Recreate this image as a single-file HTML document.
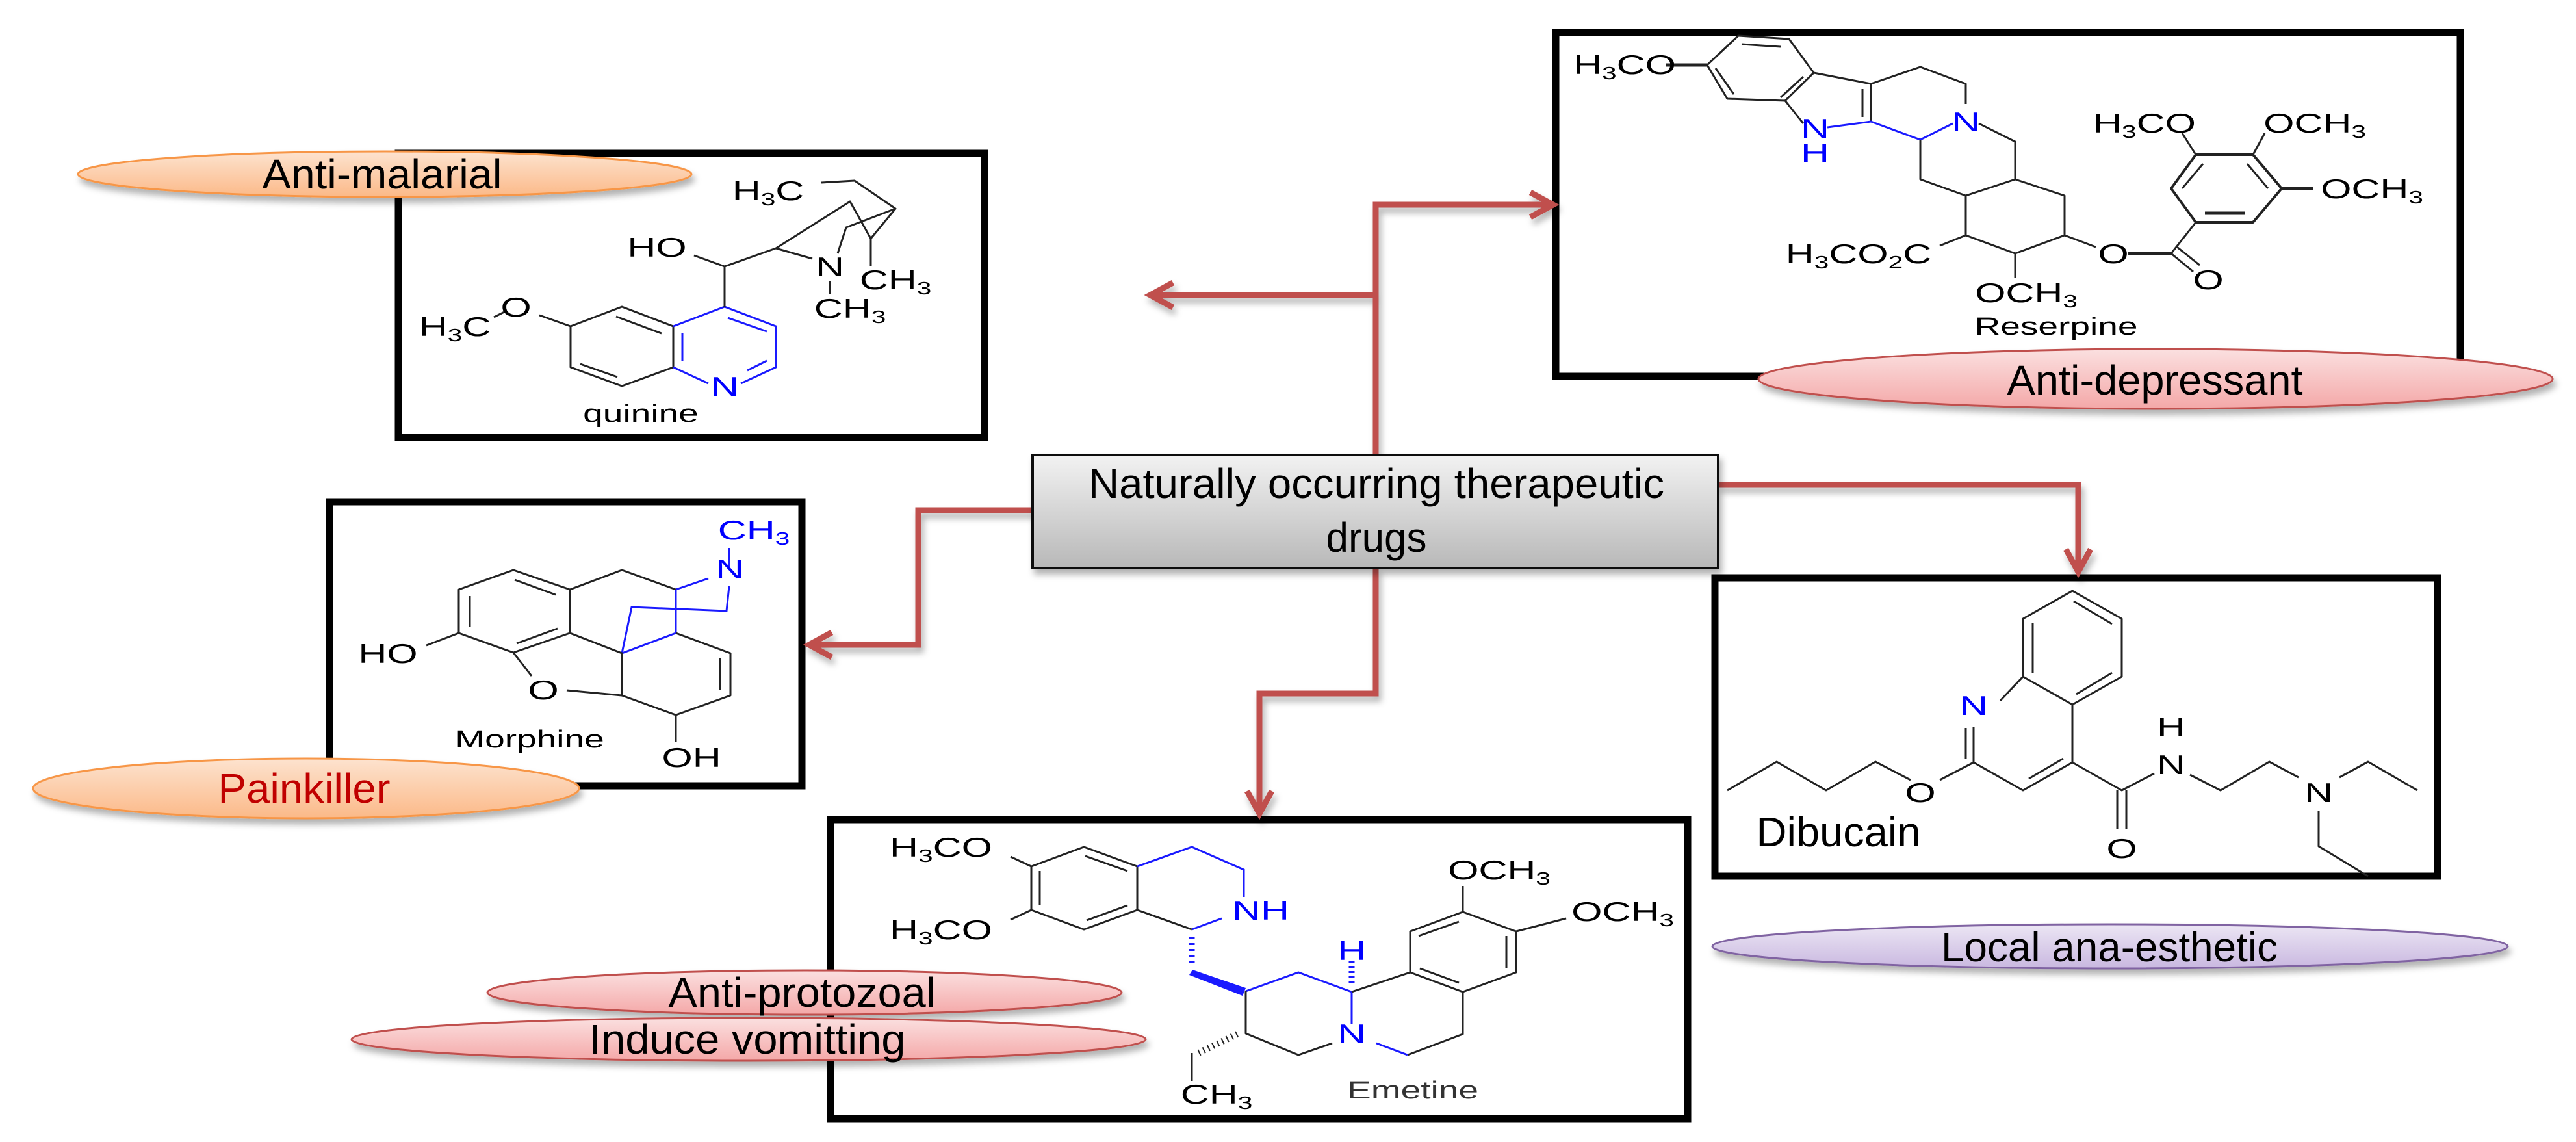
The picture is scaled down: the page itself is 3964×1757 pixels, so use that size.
<!DOCTYPE html>
<html><head><meta charset="utf-8">
<style>
html,body{margin:0;padding:0;background:#fff;}
svg{display:block;}
.c{font-family:"Liberation Sans",Arial,sans-serif;font-size:42px;fill:#000;text-anchor:middle;}
.b{fill:#0000ff;}
.k{font-family:"Liberation Sans",Arial,sans-serif;fill:#000;font-size:64px;text-anchor:middle;}
.m{stroke:#222;stroke-width:3;fill:none;stroke-linejoin:round;}
.mb{stroke:#1a1aff;stroke-width:3;fill:none;}
.box{fill:none;stroke:#000;stroke-width:11;}
.con{stroke:#c0504d;stroke-width:9;fill:none;}
</style></head><body>
<svg width="3964" height="1757" viewBox="0 0 3964 1757" xmlns="http://www.w3.org/2000/svg">
<defs>
<linearGradient id="gOr" x1="0" y1="0" x2="0" y2="1"><stop offset="0" stop-color="#fde3cf"/><stop offset="1" stop-color="#fbb988"/></linearGradient>
<linearGradient id="gPk" x1="0" y1="0" x2="0" y2="1"><stop offset="0" stop-color="#fbe0e0"/><stop offset="1" stop-color="#f4a8a8"/></linearGradient>
<linearGradient id="gPu" x1="0" y1="0" x2="0" y2="1"><stop offset="0" stop-color="#ece6f4"/><stop offset="1" stop-color="#c9b8e0"/></linearGradient>
<linearGradient id="gGr" x1="0" y1="0" x2="0" y2="1"><stop offset="0" stop-color="#f2f2f2"/><stop offset="1" stop-color="#b8b8b8"/></linearGradient>
<filter id="sh" x="-10%" y="-20%" width="120%" height="150%"><feDropShadow dx="4" dy="8" stdDeviation="5" flood-color="#000" flood-opacity="0.3"/></filter>
</defs>

<rect class="box" x="613" y="236" width="902" height="437"/>
<rect class="box" x="2394" y="50" width="1392" height="529"/>
<rect class="box" x="507" y="772" width="727" height="437"/>
<rect class="box" x="2639" y="889" width="1112" height="459"/>
<rect class="box" x="1278" y="1261" width="1319" height="460"/>

<g filter="url(#sh)">
<polyline class="con" points="2117,700 2117,315 2390,315"/>
<polyline class="con" points="2355,296 2390,315 2355,334"/>
<polyline class="con" points="2117,454 1770,454"/>
<polyline class="con" points="1805,435 1770,454 1805,473"/>
<polyline class="con" points="2644,746 3198,746 3198,880"/>
<polyline class="con" points="3179,845 3198,880 3217,845"/>
<polyline class="con" points="1589,785 1413,785 1413,992 1245,992"/>
<polyline class="con" points="1280,973 1245,992 1280,1011"/>
<polyline class="con" points="2117,874 2117,1067 1938,1067 1938,1252"/>
<polyline class="con" points="1919,1217 1938,1252 1957,1217"/>
</g>

<rect x="1589" y="700" width="1055" height="174" fill="url(#gGr)" stroke="#111" stroke-width="4" filter="url(#sh)"/>
<text class="k" x="2118" y="766" textLength="886" lengthAdjust="spacingAndGlyphs">Naturally occurring therapeutic</text>
<text class="k" x="2118" y="849" textLength="155" lengthAdjust="spacingAndGlyphs">drugs</text>

<g filter="url(#sh)">
<ellipse cx="592" cy="268" rx="472" ry="35" fill="url(#gOr)" stroke="#f79646" stroke-width="3"/>
<ellipse cx="3317" cy="583" rx="611" ry="46" fill="url(#gPk)" stroke="#c0504d" stroke-width="3"/>
<ellipse cx="3247" cy="1456" rx="612" ry="34" fill="url(#gPu)" stroke="#8064a2" stroke-width="3"/>
<ellipse cx="471" cy="1213" rx="420" ry="46" fill="url(#gOr)" stroke="#f79646" stroke-width="3"/>
<ellipse cx="1238" cy="1527" rx="488" ry="34" fill="url(#gPk)" stroke="#c0504d" stroke-width="3"/>
<ellipse cx="1152" cy="1599" rx="611" ry="33" fill="url(#gPk)" stroke="#c0504d" stroke-width="3"/>
</g>
<text class="k" x="588" y="290" textLength="369" lengthAdjust="spacingAndGlyphs">Anti-malarial</text>
<text class="k" x="3316" y="607" textLength="455" lengthAdjust="spacingAndGlyphs">Anti-depressant</text>
<text class="k" x="3246" y="1479" textLength="518" lengthAdjust="spacingAndGlyphs">Local ana-esthetic</text>
<text class="k" x="468" y="1235" textLength="265" lengthAdjust="spacingAndGlyphs" style="fill:#c00000">Painkiller</text>
<text class="k" x="1234" y="1549" textLength="411" lengthAdjust="spacingAndGlyphs">Anti-protozoal</text>
<text class="k" x="1150" y="1621" textLength="487" lengthAdjust="spacingAndGlyphs">Induce vomitting</text>

<!-- QUININE -->
<polygon class="m" points="957,472 1036,502 1036,565 957,594 878,565 878,502"/>
<line class="m" x1="948" y1="487" x2="1018" y2="513"/><line class="m" x1="893" y1="560" x2="950" y2="580"/>
<polyline class="mb" points="1036,502 1115,472 1194,502 1194,565 1140,590"/>
<polyline class="mb" points="1090,590 1036,565"/>
<line class="mb" x1="1050" y1="512" x2="1050" y2="555"/><line class="mb" x1="1120" y1="489" x2="1180" y2="510"/><line class="mb" x1="1150" y1="570" x2="1180" y2="555"/>
<polyline class="m" points="1115,472 1115,410 1194,382 1250,398"/>
<line class="m" x1="1115" y1="410" x2="1068" y2="393"/>
<polyline class="m" points="1194,382 1308,310 1340,367 1378,321 1315,278 1264,281"/>
<polyline class="m" points="1378,321 1302,350 1289,390"/>
<line class="m" x1="1340" y1="367" x2="1340" y2="410"/>
<line class="m" x1="1277" y1="433" x2="1277" y2="452"/>
<line class="m" x1="878" y1="502" x2="830" y2="485"/>
<line class="m" x1="760" y1="488" x2="780" y2="478"/>
<text class="c" transform="matrix(1.45,0,0,1,1182,308)">H<tspan font-size="28" dy="8">3</tspan><tspan dy="-8">C</tspan></text>
<text class="c" transform="matrix(1.45,0,0,1,1011,395)">HO</text>
<text class="c" transform="matrix(1.45,0,0,1,1277,425)">N</text>
<text class="c" transform="matrix(1.45,0,0,1,1378,445)">CH<tspan font-size="28" dy="8">3</tspan></text>
<text class="c" transform="matrix(1.45,0,0,1,1308,489)">CH<tspan font-size="28" dy="8">3</tspan></text>
<text class="c" transform="matrix(1.45,0,0,1,794,487)">O</text>
<text class="c" transform="matrix(1.45,0,0,1,700,517)">H<tspan font-size="28" dy="8">3</tspan><tspan dy="-8">C</tspan></text>
<text class="c b" transform="matrix(1.45,0,0,1,1115,609)">N</text>
<text class="c" transform="matrix(1.45,0,0,1,986,649)" style="font-size:38px">quinine</text>

<!-- RESERPINE -->
<polygon class="m" points="2675,55 2753,60 2791,112 2747,155 2658,152 2627,100"/>
<line class="m" x1="2680" y1="68" x2="2740" y2="72"/><line class="m" x1="2640" y1="105" x2="2668" y2="145"/><line class="m" x1="2775" y1="118" x2="2740" y2="150"/>
<line class="m" x1="2563" y1="100" x2="2627" y2="100" style="stroke-width:5"/>
<polyline class="m" points="2791,112 2879,129 2879,187"/>
<line class="m" x1="2866" y1="137" x2="2866" y2="180"/>
<line class="m" x1="2747" y1="155" x2="2775" y2="190"/>
<polyline class="mb" points="2812,196 2879,187 2955,215 3005,190"/>
<polyline class="m" points="2879,129 2955,103 3025,129 3025,160"/>
<polyline class="m" points="3045,190 3101,218 3101,276 3025,301 2955,276 2955,215"/>
<polyline class="m" points="3101,276 3177,301 3177,362 3101,390 3025,362 3025,301"/>
<line class="m" x1="3025" y1="362" x2="2985" y2="378"/>
<line class="m" x1="3101" y1="390" x2="3101" y2="428"/>
<line class="m" x1="3177" y1="362" x2="3225" y2="380"/>
<line class="m" x1="3275" y1="390" x2="3341" y2="390" style="stroke-width:5"/>
<line class="m" x1="3341" y1="390" x2="3379" y2="342"/>
<line class="m" x1="3341" y1="390" x2="3375" y2="418"/><line class="m" x1="3350" y1="380" x2="3385" y2="408"/>
<polygon class="m" points="3379,342 3467,342 3511,290 3467,238 3379,238 3341,290" style="stroke-width:4"/>
<line class="m" x1="3393" y1="328" x2="3455" y2="328" style="stroke-width:5"/><line class="m" x1="3390" y1="252" x2="3358" y2="290"/><line class="m" x1="3458" y1="252" x2="3490" y2="290"/>
<line class="m" x1="3511" y1="290" x2="3560" y2="290" style="stroke-width:5"/>
<line class="m" x1="3379" y1="238" x2="3358" y2="205"/>
<line class="m" x1="3467" y1="238" x2="3485" y2="205"/>
<text class="c" transform="matrix(1.45,0,0,1,2500,114)">H<tspan font-size="28" dy="8">3</tspan><tspan dy="-8">CO</tspan></text>
<text class="c b" transform="matrix(1.45,0,0,1,2793,212)">N</text>
<text class="c b" transform="matrix(1.45,0,0,1,2793,250)">H</text>
<text class="c b" transform="matrix(1.45,0,0,1,3025,202)">N</text>
<text class="c" transform="matrix(1.45,0,0,1,3300,204)">H<tspan font-size="28" dy="8">3</tspan><tspan dy="-8">CO</tspan></text>
<text class="c" transform="matrix(1.45,0,0,1,3562,204)">OCH<tspan font-size="28" dy="8">3</tspan></text>
<text class="c" transform="matrix(1.45,0,0,1,3650,305)">OCH<tspan font-size="28" dy="8">3</tspan></text>
<text class="c" transform="matrix(1.45,0,0,1,2860,405)">H<tspan font-size="28" dy="8">3</tspan><tspan dy="-8">CO</tspan><tspan font-size="28" dy="8">2</tspan><tspan dy="-8">C</tspan></text>
<text class="c" transform="matrix(1.45,0,0,1,3118,465)">OCH<tspan font-size="28" dy="8">3</tspan></text>
<text class="c" transform="matrix(1.45,0,0,1,3252,405)">O</text>
<text class="c" transform="matrix(1.45,0,0,1,3398,445)">O</text>
<text class="c" transform="matrix(1.45,0,0,1,3164,515)" style="font-size:38px">Reserpine</text>

<!-- MORPHINE -->
<polygon class="m" points="790,877 877,907 877,974 790,1004 706,974 706,907"/>
<line class="m" x1="792" y1="892" x2="855" y2="915"/><line class="m" x1="723" y1="917" x2="723" y2="965"/><line class="m" x1="795" y1="990" x2="858" y2="967"/>
<line class="m" x1="706" y1="974" x2="656" y2="993"/>
<polyline class="m" points="877,907 957,877 1040,907"/>
<line class="mb" x1="1040" y1="907" x2="1090" y2="890"/>
<line class="mb" x1="1122" y1="877" x2="1122" y2="843"/>
<polyline class="mb" points="1122,902 1118,940 972,934 957,1005 1040,974"/>
<line class="mb" x1="1040" y1="907" x2="1040" y2="974"/>
<polyline class="m" points="877,974 957,1005 957,1070 1040,1100 1124,1070 1124,1005 1040,974"/>
<line class="m" x1="1108" y1="1012" x2="1108" y2="1062"/>
<line class="m" x1="790" y1="1004" x2="818" y2="1040"/>
<line class="m" x1="872" y1="1062" x2="957" y2="1070"/>
<line class="m" x1="1040" y1="1100" x2="1040" y2="1142"/>
<text class="c" transform="matrix(1.45,0,0,1,597,1020)">HO</text>
<text class="c" transform="matrix(1.45,0,0,1,836,1076)">O</text>
<text class="c" transform="matrix(1.45,0,0,1,1064,1180)">OH</text>
<text class="c b" transform="matrix(1.45,0,0,1,1123,890)">N</text>
<text class="c b" transform="matrix(1.45,0,0,1,1160,830)">CH<tspan font-size="28" dy="8">3</tspan></text>
<text class="c" transform="matrix(1.45,0,0,1,815,1150)" style="font-size:38px">Morphine</text>

<!-- EMETINE -->
<polygon class="m" points="1668,1303 1750,1333 1750,1400 1668,1430 1587,1400 1587,1333"/>
<line class="m" x1="1670" y1="1317" x2="1735" y2="1340"/><line class="m" x1="1600" y1="1340" x2="1600" y2="1393"/><line class="m" x1="1672" y1="1416" x2="1735" y2="1393"/>
<line class="m" x1="1587" y1="1333" x2="1555" y2="1318"/><line class="m" x1="1587" y1="1400" x2="1555" y2="1415"/>
<polyline class="mb" points="1750,1333 1834,1303 1914,1338 1914,1380"/>
<polyline class="mb" points="1880,1413 1834,1430"/>
<line class="m" x1="1834" y1="1430" x2="1750" y2="1400"/>
<line class="mb" x1="1834" y1="1442" x2="1834" y2="1483" style="stroke-width:9;stroke-dasharray:3 6"/>
<polygon points="1835,1492 1917,1520 1912,1532 1830,1500" fill="#1a1aff"/>
<polyline class="mb" points="1917,1525 1998,1496 2080,1526"/>
<line class="mb" x1="2080" y1="1526" x2="2080" y2="1575"/>
<line class="mb" x1="2080" y1="1478" x2="2080" y2="1518" style="stroke-width:9;stroke-dasharray:3 5"/>
<polyline class="m" points="2050,1605 1998,1623 1917,1590 1917,1525"/>
<line class="m" x1="1904" y1="1591" x2="1844" y2="1620" style="stroke-width:10;stroke-dasharray:2 6"/>
<line class="m" x1="1834" y1="1620" x2="1834" y2="1663"/>
<polygon class="m" points="2251,1403 2333,1433 2333,1496 2251,1526 2170,1496 2170,1433"/>
<line class="m" x1="2183" y1="1440" x2="2245" y2="1418"/><line class="m" x1="2318" y1="1440" x2="2318" y2="1490"/><line class="m" x1="2185" y1="1490" x2="2245" y2="1512"/>
<line class="m" x1="2080" y1="1526" x2="2170" y2="1496"/>
<polyline class="m" points="2251,1526 2251,1591 2166,1623"/>
<line class="mb" x1="2166" y1="1623" x2="2118" y2="1605"/>
<line class="m" x1="2251" y1="1403" x2="2251" y2="1363"/>
<line class="m" x1="2333" y1="1433" x2="2410" y2="1413"/>
<text class="c" transform="matrix(1.45,0,0,1,1448,1318)">H<tspan font-size="28" dy="8">3</tspan><tspan dy="-8">CO</tspan></text>
<text class="c" transform="matrix(1.45,0,0,1,1448,1445)">H<tspan font-size="28" dy="8">3</tspan><tspan dy="-8">CO</tspan></text>
<text class="c b" transform="matrix(1.45,0,0,1,1940,1415)">NH</text>
<text class="c b" transform="matrix(1.45,0,0,1,2080,1477)">H</text>
<text class="c b" transform="matrix(1.45,0,0,1,2080,1605)">N</text>
<text class="c" transform="matrix(1.45,0,0,1,1872,1698)">CH<tspan font-size="28" dy="8">3</tspan></text>
<text class="c" transform="matrix(1.45,0,0,1,2307,1353)">OCH<tspan font-size="28" dy="8">3</tspan></text>
<text class="c" transform="matrix(1.45,0,0,1,2497,1417)">OCH<tspan font-size="28" dy="8">3</tspan></text>
<text class="c" transform="matrix(1.45,0,0,1,2174,1690)" style="font-size:38px;fill:#333">Emetine</text>

<!-- DIBUCAIN -->
<polygon class="m" points="3189,909 3265,952 3265,1041 3189,1084 3113,1041 3113,952"/>
<line class="m" x1="3191" y1="925" x2="3250" y2="960"/><line class="m" x1="3128" y1="958" x2="3128" y2="1035"/><line class="m" x1="3195" y1="1068" x2="3250" y2="1035"/>
<line class="m" x1="3113" y1="1041" x2="3078" y2="1078"/>
<polyline class="m" points="3037,1118 3037,1173 3113,1216 3189,1173 3189,1084"/>
<line class="m" x1="3025" y1="1120" x2="3025" y2="1168"/>
<line class="m" x1="3122" y1="1198" x2="3175" y2="1167"/>
<line class="m" x1="3037" y1="1173" x2="2985" y2="1200"/>
<polyline class="m" points="2940,1200 2886,1172 2810,1216 2734,1172 2658,1216"/>
<polyline class="m" points="3189,1173 3265,1216 3315,1190"/>
<line class="m" x1="3258" y1="1216" x2="3258" y2="1275"/><line class="m" x1="3272" y1="1216" x2="3272" y2="1275"/>
<polyline class="m" points="3370,1192 3417,1216 3492,1172 3537,1196"/>
<polyline class="m" points="3600,1196 3644,1172 3720,1216"/>
<polyline class="m" points="3568,1247 3568,1302 3644,1348"/>
<text class="c b" transform="matrix(1.45,0,0,1,3037,1100)">N</text>
<text class="c" transform="matrix(1.45,0,0,1,2955,1234)">O</text>
<text class="c" transform="matrix(1.45,0,0,1,3341,1191)">N</text>
<text class="c" transform="matrix(1.45,0,0,1,3341,1133)">H</text>
<text class="c" transform="matrix(1.45,0,0,1,3568,1234)">N</text>
<text class="c" transform="matrix(1.45,0,0,1,3265,1320)">O</text>
<text class="k" x="2829" y="1302" textLength="253" lengthAdjust="spacingAndGlyphs">Dibucain</text>
</svg>
</body></html>
